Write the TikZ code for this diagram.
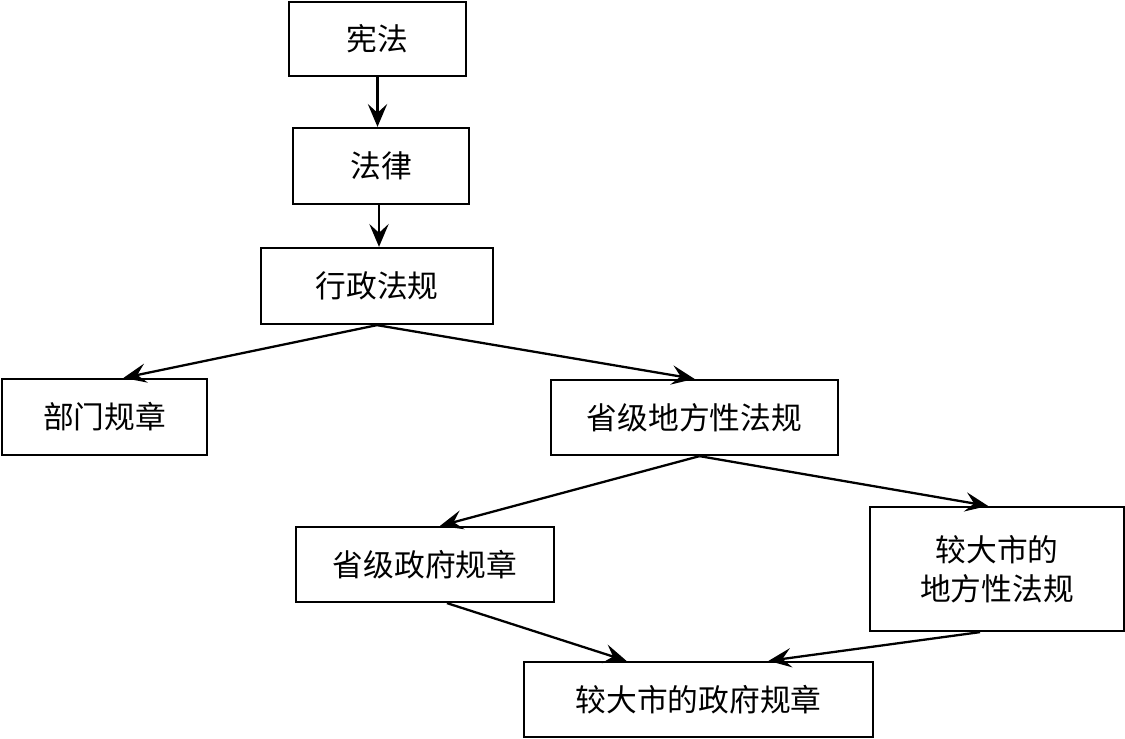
\documentclass[tikz,border=0pt]{standalone}
\usepackage{fontspec}
\setmainfont{Noto Sans CJK SC}
\usetikzlibrary{calc,arrows.meta}

\begin{document}
\begin{tikzpicture}[x=0.02cm,y=-0.02cm]
            \tikzstyle{box}=[draw=black,line width=1.3pt,inner sep=0pt,align=center,font=\fontsize{17.5}{22}\selectfont]
            \tikzstyle{link}=[line width=1.3pt,-{Stealth[length=13pt,width=11pt,inset=5pt]}]
            \useasboundingbox (0,0) rectangle (1125,739);
            \node[box,minimum width=3.54cm,minimum height=1.48cm] (xf) at (377.5,39) {宪法};
            \node[box,minimum width=3.52cm,minimum height=1.52cm] (fl) at (381,166) {法律};
            \node[box,minimum width=4.64cm,minimum height=1.52cm] (xzfg) at (377,286) {行政法规};
            \node[box,minimum width=4.10cm,minimum height=1.52cm] (bmgz) at (104.5,417) {部门规章};
            \node[box,minimum width=5.74cm,minimum height=1.50cm] (sjdf) at (694.5,417.5) {省级地方性法规};
            \node[box,minimum width=5.16cm,minimum height=1.50cm] (sjzf) at (425,564.5) {省级政府规章};
            \node[box,minimum width=5.08cm,minimum height=2.48cm] (jddf) at (997,569) {较大市的\\地方性法规};
            \node[box,minimum width=6.98cm,minimum height=1.50cm] (jdzf) at (698.5,699.5) {较大市的政府规章};
            \draw[link] (xf.south) -- (xf.south |- fl.north);
            \draw[link] ($(fl.south)+(-2,0)$) -- ($(fl.south |- xzfg.north)+(-2,0)$);
            \draw[link] (xzfg.south) -- ($(bmgz.north)+(19,0)$);
            \draw[link] (xzfg.south) -- (sjdf.north);
            \draw[link] ($(sjdf.south)+(5,0)$) -- ($(sjzf.north)+(15,0)$);
            \draw[link] ($(sjdf.south)+(5,0)$) -- ($(jddf.north)+(-9,0)$);
            \draw[link] ($(sjzf.south)+(22,0)$) -- ($(jdzf.north)+(-72,0)$);
            \draw[link] ($(jddf.south)+(-17,0)$) -- ($(jdzf.north)+(70,0)$);
        \end{tikzpicture}
\end{document}
